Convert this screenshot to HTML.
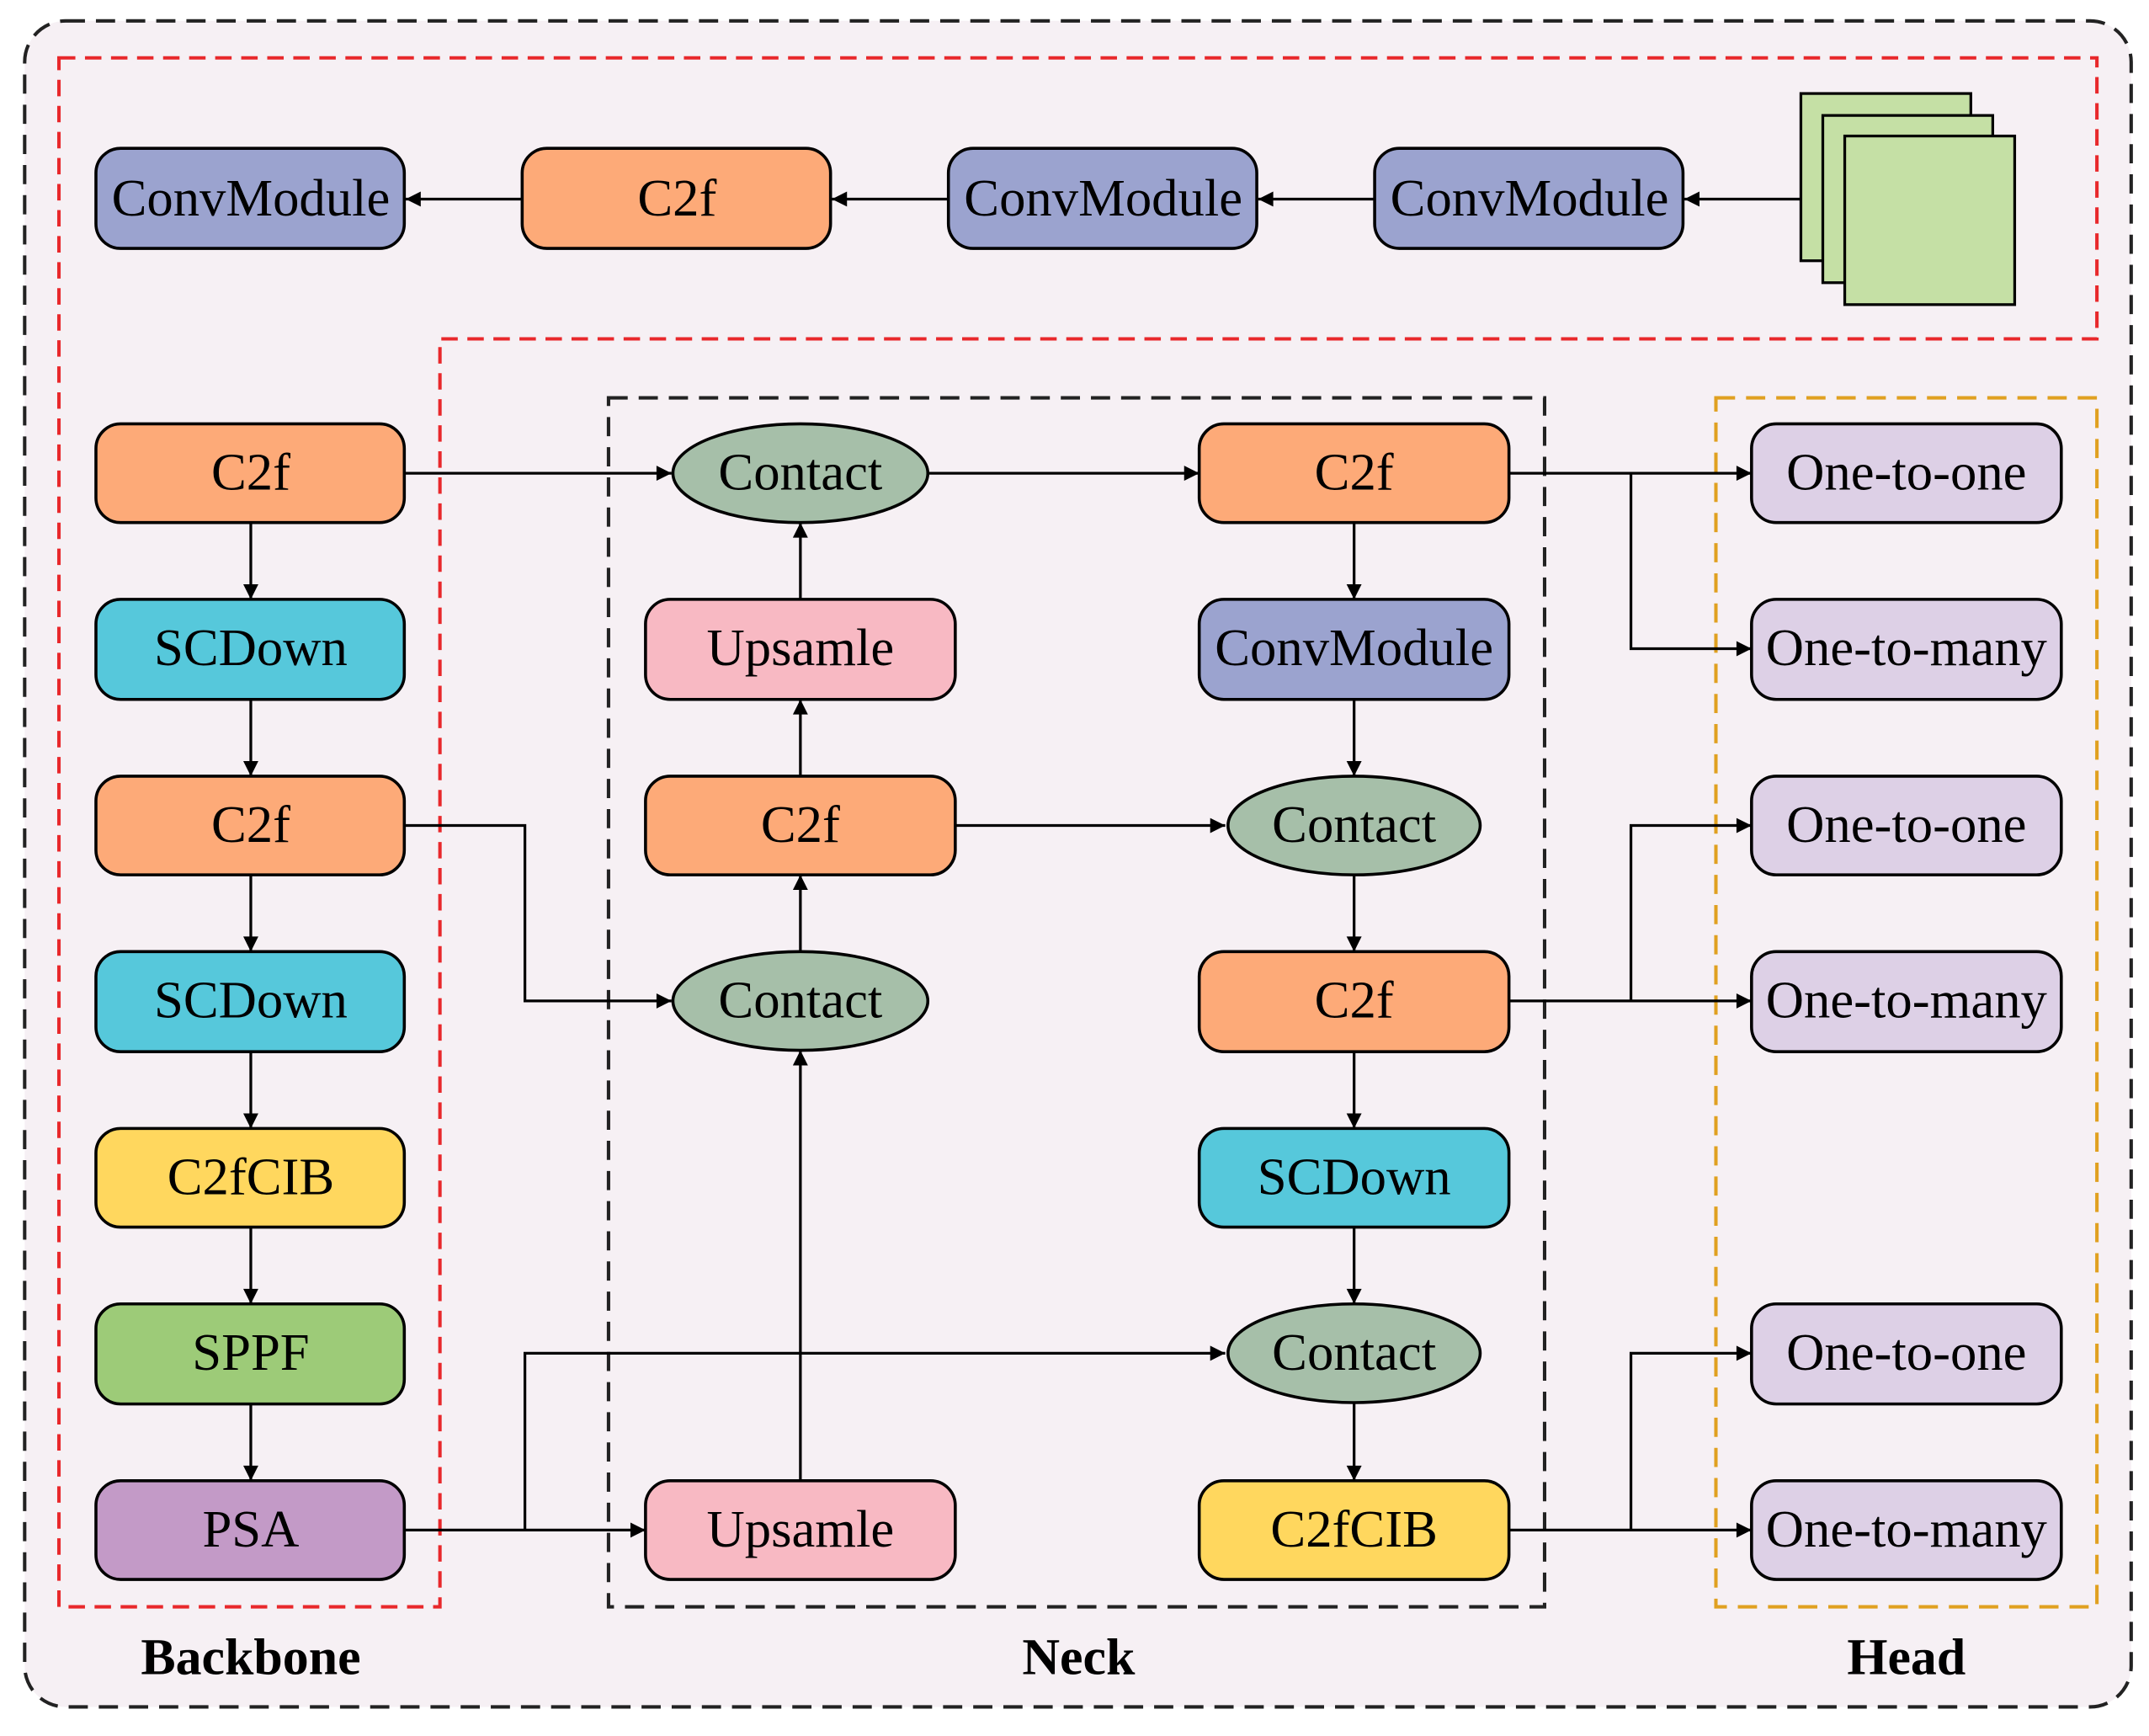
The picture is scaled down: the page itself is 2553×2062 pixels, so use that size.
<!DOCTYPE html>
<html><head><meta charset="utf-8"><style>
html,body{margin:0;padding:0;background:#fff;}
svg{display:block;}
text{font-family:"Liberation Serif",serif;}
</style></head><body>
<svg width="2553" height="2062" viewBox="0 0 1568 1266" xmlns="http://www.w3.org/2000/svg">
<defs>
<marker id="a" viewBox="0 0 10 10" refX="10" refY="5" markerWidth="12" markerHeight="11" orient="auto" markerUnits="userSpaceOnUse"><path d="M0,0 L10,5 L0,10 z" fill="#000"/></marker>
</defs>
<rect x="18" y="15" width="1537" height="1230" rx="30" fill="#F6F0F4" stroke="#222" stroke-width="2.5" stroke-dasharray="14,8"/>
<path d="M43,42 H1530 V247 H321 V1172 H43 Z" fill="none" stroke="#E8282B" stroke-width="2.5" stroke-dasharray="12,7"/>
<rect x="444" y="290" width="683" height="882" fill="none" stroke="#222" stroke-width="2.5" stroke-dasharray="14,8"/>
<rect x="1252" y="290" width="278" height="882" fill="none" stroke="#E0A020" stroke-width="2.5" stroke-dasharray="14,8"/>

<g stroke="#000" stroke-width="2">
<rect x="1314" y="68" width="124" height="122" fill="#C5E0A5"/>
<rect x="1330" y="84" width="124" height="122" fill="#C5E0A5"/>
<rect x="1346" y="99" width="124" height="123" fill="#C5E0A5"/>
</g>

<g stroke="#000" stroke-width="2" fill="none" marker-end="url(#a)">
<path d="M1314,145 H1229"/><path d="M1003,145 H918"/><path d="M692,145 H607"/><path d="M381,145 H296"/>
<path d="M183,381 V437"/><path d="M183,510 V566"/><path d="M183,638 V694"/><path d="M183,767 V823"/><path d="M183,895 V951"/><path d="M183,1024 V1080"/>
<path d="M295,345 H490"/><path d="M677,345 H875"/>
<path d="M584,437 V381"/><path d="M584,566 V510"/><path d="M584,694 V638"/><path d="M584,1080 V766"/>
<path d="M295,602 H383 V730 H490"/>
<path d="M697,602 H894"/>
<path d="M295,1116 H471"/><path d="M383,1116 V987 H894"/>
<path d="M988,381 V437"/><path d="M988,510 V566"/><path d="M988,638 V694"/><path d="M988,767 V823"/><path d="M988,895 V951"/><path d="M988,1023 V1080"/>
<path d="M1101,345 H1278"/><path d="M1190,345 V473 H1278"/>
<path d="M1101,730 H1278"/><path d="M1190,730 V602 H1278"/>
<path d="M1101,1116 H1278"/><path d="M1190,1116 V987 H1278"/>
</g>

<g stroke="#000" stroke-width="2.2">
<rect x="70" y="108" width="225" height="73" rx="18" fill="#9BA3CF"/>
<rect x="381" y="108" width="225" height="73" rx="18" fill="#FDAA78"/>
<rect x="692" y="108" width="225" height="73" rx="18" fill="#9BA3CF"/>
<rect x="1003" y="108" width="225" height="73" rx="18" fill="#9BA3CF"/>

<rect x="70" y="309" width="225" height="72" rx="18" fill="#FDAA78"/>
<rect x="70" y="437" width="225" height="73" rx="18" fill="#56C8DB"/>
<rect x="70" y="566" width="225" height="72" rx="18" fill="#FDAA78"/>
<rect x="70" y="694" width="225" height="73" rx="18" fill="#56C8DB"/>
<rect x="70" y="823" width="225" height="72" rx="18" fill="#FFD75E"/>
<rect x="70" y="951" width="225" height="73" rx="18" fill="#9DCB78"/>
<rect x="70" y="1080" width="225" height="72" rx="18" fill="#C39AC7"/>

<ellipse cx="584" cy="345" rx="93" ry="36" fill="#A6BFA9"/>
<rect x="471" y="437" width="226" height="73" rx="18" fill="#F8B9C3"/>
<rect x="471" y="566" width="226" height="72" rx="18" fill="#FDAA78"/>
<ellipse cx="584" cy="730" rx="93" ry="36" fill="#A6BFA9"/>
<rect x="471" y="1080" width="226" height="72" rx="18" fill="#F8B9C3"/>

<rect x="875" y="309" width="226" height="72" rx="18" fill="#FDAA78"/>
<rect x="875" y="437" width="226" height="73" rx="18" fill="#9BA3CF"/>
<ellipse cx="988" cy="602" rx="92" ry="36" fill="#A6BFA9"/>
<rect x="875" y="694" width="226" height="73" rx="18" fill="#FDAA78"/>
<rect x="875" y="823" width="226" height="72" rx="18" fill="#56C8DB"/>
<ellipse cx="988" cy="987" rx="92" ry="36" fill="#A6BFA9"/>
<rect x="875" y="1080" width="226" height="72" rx="18" fill="#FFD75E"/>

<rect x="1278" y="309" width="226" height="72" rx="18" fill="#DDD0E6"/>
<rect x="1278" y="437" width="226" height="73" rx="18" fill="#DDD0E6"/>
<rect x="1278" y="566" width="226" height="72" rx="18" fill="#DDD0E6"/>
<rect x="1278" y="694" width="226" height="73" rx="18" fill="#DDD0E6"/>
<rect x="1278" y="951" width="226" height="73" rx="18" fill="#DDD0E6"/>
<rect x="1278" y="1080" width="226" height="72" rx="18" fill="#DDD0E6"/>
</g>

<g font-size="38.5" text-anchor="middle" fill="#000">
<text x="183" y="157">ConvModule</text>
<text x="494" y="157">C2f</text>
<text x="805" y="157">ConvModule</text>
<text x="1116" y="157">ConvModule</text>
<text x="183" y="357">C2f</text>
<text x="183" y="485">SCDown</text>
<text x="183" y="614">C2f</text>
<text x="183" y="742">SCDown</text>
<text x="183" y="871">C2fCIB</text>
<text x="183" y="999">SPPF</text>
<text x="183" y="1128">PSA</text>
<text x="584" y="357">Contact</text>
<text x="584" y="485">Upsamle</text>
<text x="584" y="614">C2f</text>
<text x="584" y="742">Contact</text>
<text x="584" y="1128">Upsamle</text>
<text x="988" y="357">C2f</text>
<text x="988" y="485">ConvModule</text>
<text x="988" y="614">Contact</text>
<text x="988" y="742">C2f</text>
<text x="988" y="871">SCDown</text>
<text x="988" y="999">Contact</text>
<text x="988" y="1128">C2fCIB</text>
<text x="1391" y="357">One-to-one</text>
<text x="1391" y="485">One-to-many</text>
<text x="1391" y="614">One-to-one</text>
<text x="1391" y="742">One-to-many</text>
<text x="1391" y="999">One-to-one</text>
<text x="1391" y="1128">One-to-many</text>
</g>
<g font-size="38" font-weight="bold" text-anchor="middle">
<text x="183" y="1221">Backbone</text>
<text x="787" y="1221">Neck</text>
<text x="1391" y="1221">Head</text>
</g>
</svg>
</body></html>
